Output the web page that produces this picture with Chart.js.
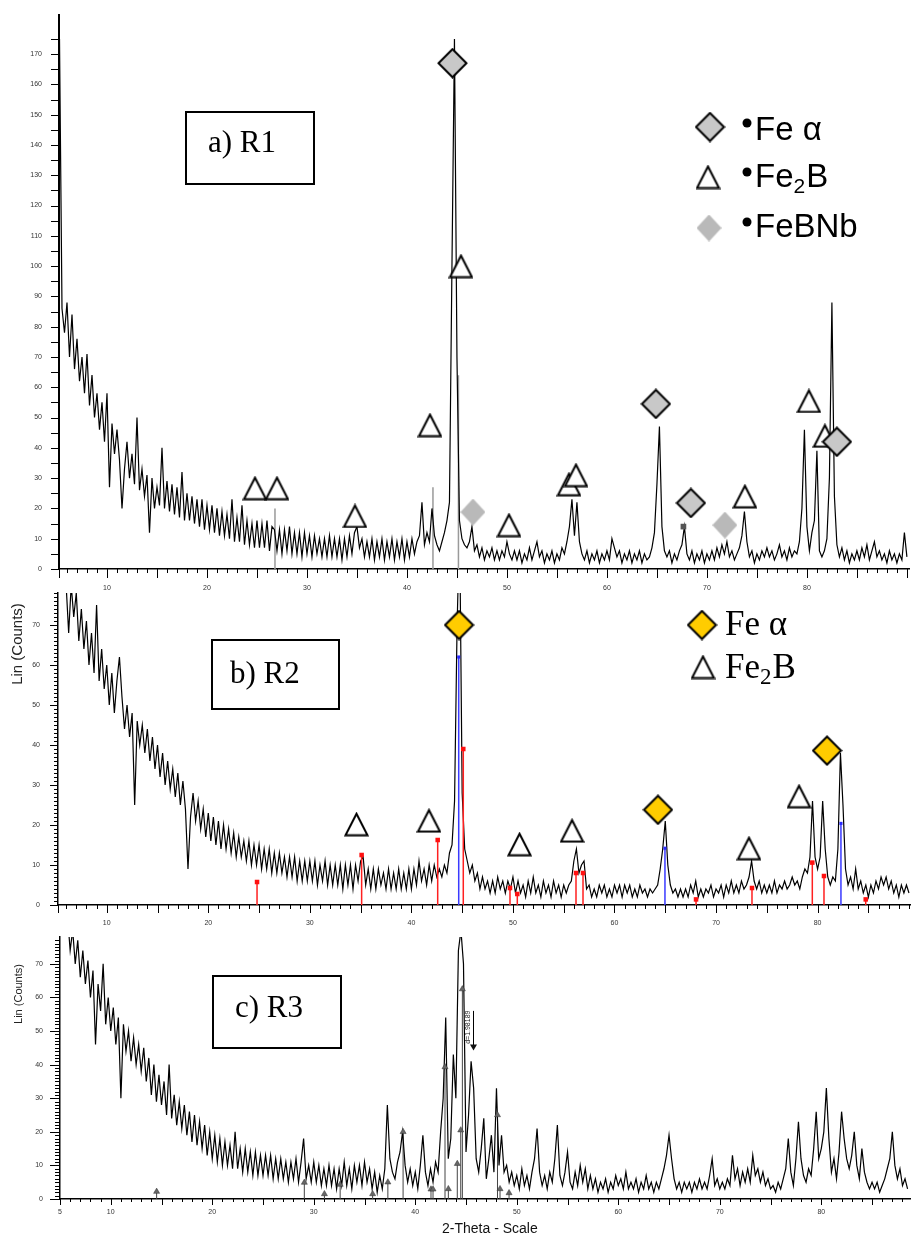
<!DOCTYPE html>
<html>
<head>
<meta charset="utf-8">
<title>XRD R1 R2 R3</title>
<script src="https://cdn.jsdelivr.net/npm/chart.js@4.4.0/dist/chart.umd.min.js"></script>
<style>
  html, body { margin: 0; padding: 0; background: #fff; }
  body { width: 911px; height: 1234px; position: relative; overflow: hidden; }
  canvas { position: absolute; left: 0; }
</style>
</head>
<body>
<canvas id="chartA" width="911" height="600" style="top:0px"></canvas>
<canvas id="chartB" width="911" height="346" style="top:584px"></canvas>
<canvas id="chartC" width="911" height="304" style="top:930px"></canvas>
<script>
'use strict'

// scan grid (2-theta, degrees)
const ANGLE_STEP = 0.25;
const r1Start = 5.25;
const r2Start = 5.25;
const r3Start = 5.25;

// a) R1 counts, one row = 5 degrees
const r1Counts = [
  175, 86, 78, 88, 70, 84, 66, 76, 62, 70, 58, 71, 54, 64, 50, 58, 46, 55, 42, 58,
  27, 48, 38, 46, 36, 20, 33, 42, 30, 38, 28, 50, 26, 33, 24, 31, 12, 30, 20, 27,
  21, 40, 20, 29, 19, 28, 18, 27, 17, 32, 16, 25, 16, 24, 15, 23, 14, 23, 13, 21,
  13, 21, 12, 20, 11, 19, 11, 18, 10, 23, 9, 17, 9, 21, 8, 16, 8, 15, 7, 16,
  7, 15, 7, 16, 6, 14, 13, 6, 13, 5, 13, 6, 14, 5, 12, 5, 12, 4, 12, 5,
  11, 4, 11, 5, 10, 4, 10, 4, 11, 4, 10, 4, 10, 3, 10, 4, 11, 5, 12, 14,
  7, 10, 4, 9, 4, 10, 3, 9, 4, 10, 3, 9, 4, 10, 3, 9, 4, 10, 3, 9,
  4, 10, 5, 9, 11, 22, 8, 12, 9, 20, 11, 8, 6, 9, 12, 16, 22, 100, 175, 70,
  16, 10, 8, 7, 9, 14, 6, 8, 4, 7, 3, 6, 4, 7, 3, 6, 3, 6, 4, 9,
  5, 3, 6, 3, 6, 2, 5, 3, 7, 3, 6, 9, 4, 6, 2, 5, 3, 6, 2, 5,
  3, 7, 5, 9, 14, 23, 11, 22, 9, 5, 3, 6, 2, 5, 3, 6, 2, 5, 3, 6,
  3, 10, 7, 4, 6, 2, 5, 3, 6, 2, 5, 3, 6, 2, 5, 3, 4, 7, 12, 28,
  47, 14, 6, 4, 6, 2, 5, 3, 6, 8, 14, 5, 3, 6, 2, 5, 3, 6, 2, 5,
  3, 6, 3, 7, 4, 8, 5, 9, 4, 6, 3, 5, 7, 11, 19, 9, 4, 6, 2, 5,
  3, 6, 4, 7, 4, 6, 3, 5, 8, 4, 6, 3, 7, 4, 6, 5, 9, 20, 46, 14,
  6, 12, 16, 39, 6, 4, 6, 10, 30, 88, 24, 8, 4, 7, 3, 6, 2, 5, 3, 6,
  3, 7, 4, 8, 3, 6, 9, 4, 6, 3, 5, 2, 6, 3, 5, 2, 5, 3, 12, 4
];

// b) R2 counts
const r2Counts = [
  95, 92, 86, 80, 68, 80, 72, 78, 66, 74, 64, 71, 60, 68, 58, 75, 56, 64, 54, 60,
  50, 58, 48, 56, 62, 52, 44, 50, 42, 48, 25, 46, 40, 45, 38, 44, 36, 42, 34, 40,
  32, 38, 30, 36, 29, 34, 27, 33, 25, 31, 24, 9, 22, 28, 21, 26, 19, 24, 17, 23,
  16, 22, 15, 21, 14, 20, 14, 19, 13, 18, 12, 17, 12, 16, 11, 16, 10, 15, 10, 15,
  9, 14, 9, 14, 8, 13, 8, 13, 8, 12, 7, 12, 7, 12, 6, 11, 6, 11, 6, 11,
  6, 11, 5, 10, 6, 11, 5, 10, 5, 10, 5, 10, 4, 10, 5, 10, 4, 10, 6, 11,
  12, 5, 9, 4, 9, 4, 9, 5, 8, 4, 9, 4, 8, 4, 9, 4, 8, 4, 9, 4,
  9, 5, 11, 6, 9, 5, 10, 6, 10, 7, 9, 7, 10, 8, 13, 15, 26, 70, 95, 28,
  14, 11, 8, 10, 6, 8, 4, 7, 4, 6, 3, 6, 3, 7, 4, 6, 3, 6, 4, 7,
  3, 6, 3, 5, 2, 6, 3, 7, 3, 5, 2, 6, 3, 5, 2, 6, 3, 5, 2, 5,
  3, 5, 6, 11, 14, 8, 10, 11, 4, 5, 2, 4, 2, 5, 3, 5, 2, 4, 2, 5,
  3, 5, 2, 5, 3, 5, 2, 4, 2, 5, 3, 4, 2, 4, 3, 4, 5, 9, 14, 21,
  10, 5, 3, 4, 2, 4, 2, 4, 2, 5, 3, 6, 2, 4, 2, 4, 3, 5, 2, 4,
  3, 5, 2, 5, 3, 6, 3, 5, 3, 6, 4, 5, 7, 11, 6, 4, 6, 3, 5, 3,
  5, 3, 6, 3, 5, 4, 6, 4, 5, 7, 5, 6, 4, 7, 9, 8, 12, 26, 12, 9,
  12, 26, 14, 7, 5, 7, 6, 14, 38, 25, 9, 5, 7, 4, 9, 4, 6, 3, 5, 2,
  5, 3, 6, 4, 7, 5, 7, 4, 6, 3, 5, 2, 5, 3, 5, 3
];

// c) R3 counts
const r3Counts = [
  88, 80, 84, 74, 80, 70, 77, 66, 74, 64, 71, 60, 68, 46, 64, 56, 70, 52, 60, 50,
  57, 46, 54, 30, 52, 44, 50, 41, 48, 40, 46, 38, 45, 35, 42, 31, 40, 29, 37, 28,
  35, 25, 40, 24, 31, 22, 29, 21, 28, 19, 26, 17, 25, 16, 23, 15, 22, 13, 20, 12,
  19, 11, 18, 10, 17, 10, 16, 9, 20, 9, 15, 8, 15, 8, 14, 7, 14, 7, 13, 7,
  13, 7, 13, 6, 12, 6, 12, 6, 11, 5, 11, 6, 12, 5, 11, 18, 6, 10, 5, 11,
  5, 10, 4, 9, 4, 10, 4, 9, 3, 9, 4, 11, 4, 9, 3, 10, 5, 10, 4, 11,
  5, 9, 3, 8, 2, 7, 3, 9, 28, 12, 8, 6, 11, 14, 20, 10, 5, 9, 4, 8,
  3, 10, 19, 8, 4, 9, 5, 11, 8, 20, 30, 54, 12, 18, 43, 30, 74, 80, 70, 14,
  25, 41, 33, 12, 8, 15, 24, 6, 12, 19, 8, 33, 10, 19, 8, 10, 5, 8, 4, 7,
  3, 9, 4, 7, 3, 8, 12, 21, 8, 4, 7, 3, 8, 5, 12, 22, 7, 4, 8, 14,
  5, 3, 8, 4, 10, 5, 9, 3, 7, 3, 6, 2, 5, 3, 6, 2, 5, 3, 7, 4,
  6, 3, 8, 3, 5, 3, 6, 2, 5, 3, 7, 3, 5, 2, 5, 3, 6, 9, 13, 19,
  12, 6, 3, 5, 2, 5, 3, 5, 2, 5, 3, 6, 3, 5, 3, 7, 12, 4, 6, 3,
  5, 3, 6, 4, 13, 6, 9, 4, 8, 5, 9, 5, 13, 7, 9, 5, 8, 4, 6, 3,
  4, 2, 5, 3, 6, 9, 18, 8, 4, 12, 23, 12, 7, 5, 9, 7, 15, 26, 12, 15,
  20, 33, 18, 8, 12, 6, 14, 26, 18, 12, 9, 13, 20, 10, 6, 15, 8, 5, 3, 5,
  3, 5, 2, 4, 6, 9, 12, 20, 10, 6, 9, 4, 6, 3
];

// phase markers (angle, counts at marker centre)
const r1FeAlphaAngles = [44.55, 64.9, 68.4, 83.0];
const r1FeAlphaCounts = [167, 54.5, 21.8, 42];
const r1Fe2BAngles = [45.4, 42.3, 24.8, 27.0, 34.8, 50.2, 56.2, 56.9, 73.8, 80.2, 81.8];
const r1Fe2BCounts = [100, 47.5, 26.7, 26.7, 17.5, 14.5, 28, 31, 24, 55.5, 44];
const r1FeBNbAngles = [46.6, 71.8];
const r1FeBNbCounts = [18.8, 14.5];
const r1RefAngles = [26.8, 42.6, 45.15];
const r1RefCounts = [20, 27, 64];
const r1DotAngles = [67.65];
const r1DotCounts = [14];

const r2FeAlphaAngles = [44.69, 64.28, 80.93];
const r2FeAlphaCounts = [70, 23.8, 38.6];
const r2Fe2BAngles = [34.59, 41.73, 50.65, 55.82, 73.24, 78.17];
const r2Fe2BCounts = [20.2, 21.1, 15.2, 18.6, 14.2, 27.2];
const r2RedAngles = [24.8, 35.1, 42.59, 45.11, 49.71, 50.43, 56.21, 56.9, 68.03, 73.54, 79.48, 80.63, 84.74];
const r2RedCounts = [5.75, 12.5, 16.25, 39, 4.25, 2.75, 8, 8, 1.4, 4.25, 10.6, 7.25, 1.4];
const r2BlueAngles = [44.66, 64.97, 82.3];
const r2BlueCounts = [62, 14.2, 20.4];

const r3MarkAngles = [14.52, 29.07, 31.05, 32.6, 35.8, 37.3, 38.8, 41.55, 41.75, 42.93, 43.26, 44.14, 44.48, 44.64, 48.1, 48.35, 49.24];
const r3MarkCounts = [2.2, 4.9, 1.5, 4.3, 1.5, 5, 20, 2.9, 2.9, 39.3, 3, 10.5, 20.5, 62.5, 25, 3, 1.8];
const r3PeakAngle = 45.69;
const r3PeakArrow = [56, 44.5];
const r3PeakText = 'd=1.98189';

// tick labels
const r1XLabels = [10, 20, 30, 40, 50, 60, 70, 80, 90];
const r2XLabels = [6, 10, 20, 30, 40, 50, 60, 70, 80];
const r3XLabels = [5, 10, 20, 30, 40, 50, 60, 70, 80];
const r1YLabels = [0, 10, 20, 30, 40, 50, 60, 70, 80, 90, 100, 110, 120, 130, 140, 150, 160, 170];
const r2YLabels = [0, 10, 20, 30, 40, 50, 60, 70];
const r3YLabels = [0, 10, 20, 30, 40, 50, 60, 70];

const SANS = '"Liberation Sans", Arial, sans-serif';
const SERIF = '"Liberation Serif", "Times New Roman", serif';

function trace(start, counts) {
  return counts.map((c, i) => ({x: start + i * ANGLE_STEP, y: c}));
}
function pairs(angles, counts) {
  return angles.map((a, i) => ({x: a, y: counts[i]}));
}
function sticks(angles, counts) {
  const pts = [];
  angles.forEach((a, i) => { pts.push({x: a, y: 0}, {x: a, y: counts[i]}, {x: a, y: null}); });
  return pts;
}

function makeTriangle(w, h) {
  const c = document.createElement('canvas');
  c.width = w; c.height = h;
  const g = c.getContext('2d');
  g.beginPath();
  g.moveTo(w / 2, 2);
  g.lineTo(w - 1.5, h - 1.5);
  g.lineTo(1.5, h - 1.5);
  g.closePath();
  g.fillStyle = '#fff';
  g.fill();
  g.lineWidth = 2;
  g.strokeStyle = '#000';
  g.stroke();
  return c;
}
function makeDiamond(w, h, fill, stroke) {
  const c = document.createElement('canvas');
  c.width = w; c.height = h;
  const g = c.getContext('2d');
  const m = stroke ? 1.5 : 0;
  g.beginPath();
  g.moveTo(w / 2, m);
  g.lineTo(w - m, h / 2);
  g.lineTo(w / 2, h - m);
  g.lineTo(m, h / 2);
  g.closePath();
  g.fillStyle = fill;
  g.fill();
  if (stroke) {
    g.lineWidth = 2;
    g.strokeStyle = stroke;
    g.stroke();
  }
  return c;
}

const triImg = makeTriangle(25, 25);
const grayDiamond = makeDiamond(31, 31, '#c8c8c8', '#000');
const lightDiamond = makeDiamond(25, 27, '#b9b9b9', null);
const yellowDiamond = makeDiamond(31, 31, '#ffcc00', '#000');

function drawTickMarks(chart, t) {
  const {ctx, chartArea: a} = chart;
  const xs = chart.scales.x, ys = chart.scales.y;
  ctx.save();
  ctx.strokeStyle = '#000';
  ctx.lineWidth = 1;
  ctx.beginPath();
  for (let v = Math.ceil(xs.min); v <= xs.max; v++) {
    const px = Math.round(xs.getPixelForValue(v)) + 0.5;
    const len = v % 5 === 0 ? t.xMajor : t.xMinor;
    ctx.moveTo(px, a.bottom);
    ctx.lineTo(px, a.bottom + len);
  }
  ctx.moveTo(a.left + 0.5, a.bottom);
  ctx.lineTo(a.left + 0.5, a.bottom + t.xMajor);
  for (let v = 0; v <= t.yTop; v += t.yStep) {
    const py = Math.round(ys.getPixelForValue(v)) + 0.5;
    const len = v % 10 === 0 ? t.yMajor : t.yMinor;
    ctx.moveTo(a.left, py);
    ctx.lineTo(a.left - len, py);
  }
  ctx.stroke();
  ctx.restore();
}

function textBox(ctx, label, box, tx, ty) {
  ctx.save();
  ctx.lineWidth = 2;
  ctx.strokeStyle = '#000';
  ctx.strokeRect(box[0], box[1], box[2] - box[0], box[3] - box[1]);
  ctx.fillStyle = '#000';
  ctx.font = '31px ' + SERIF;
  ctx.textBaseline = 'alphabetic';
  ctx.fillText(label, tx, ty);
  ctx.restore();
}

function subscriptLabel(ctx, font, subFont, x, y, drop) {
  ctx.font = font;
  ctx.fillText('Fe', x, y);
  let w = ctx.measureText('Fe').width;
  ctx.font = subFont;
  ctx.fillText('2', x + w, y + drop);
  w += ctx.measureText('2').width;
  ctx.font = font;
  ctx.fillText('B', x + w + 1, y);
}

function verticalTitle(ctx, text, font, cx, cy) {
  ctx.save();
  ctx.translate(cx, cy);
  ctx.rotate(-Math.PI / 2);
  ctx.font = font;
  ctx.fillStyle = '#222';
  ctx.textAlign = 'center';
  ctx.textBaseline = 'middle';
  ctx.fillText(text, 0, 0);
  ctx.restore();
}

const decorA = {
  id: 'decorA',
  afterDraw(chart) {
    const ctx = chart.ctx;
    drawTickMarks(chart, {xMajor: 9, xMinor: 4, yStep: 5, yTop: 175, yMajor: 8, yMinor: 8});
    textBox(ctx, 'a) R1', [186, 112, 314, 184], 208, 152);
    ctx.save();
    ctx.drawImage(grayDiamond, 710 - 15.5, 127 - 15.5);
    ctx.drawImage(triImg, 708 - 12.5, 177 - 12.5);
    ctx.drawImage(lightDiamond, 709 - 12.5, 228 - 13.5);
    ctx.fillStyle = '#000';
    [123, 172, 222].forEach(cy => {
      ctx.beginPath();
      ctx.arc(747, cy, 4.5, 0, Math.PI * 2);
      ctx.fill();
    });
    ctx.font = '33px ' + SANS;
    ctx.fillText('Fe \u03B1', 755, 140);
    subscriptLabel(ctx, '33px ' + SANS, '21px ' + SANS, 755, 187, 6);
    ctx.font = '33px ' + SANS;
    ctx.fillText('FeBNb', 755, 237);
    ctx.restore();
  }
};

const decorB = {
  id: 'decorB',
  afterDraw(chart) {
    const ctx = chart.ctx;
    const top = 584;
    drawTickMarks(chart, {xMajor: 8, xMinor: 4, yStep: 1, yTop: 78, yMajor: 8, yMinor: 4});
    textBox(ctx, 'b) R2', [212, 640 - top, 339, 709 - top], 230, 683 - top);
    ctx.save();
    ctx.drawImage(yellowDiamond, 702 - 15.5, 625 - top - 15.5);
    ctx.drawImage(triImg, 703 - 12.5, 667 - top - 12.5);
    ctx.fillStyle = '#000';
    ctx.font = '35px ' + SERIF;
    ctx.fillText('Fe \u03B1', 725, 635 - top);
    subscriptLabel(ctx, '35px ' + SERIF, '23px ' + SERIF, 725, 678 - top, 6);
    ctx.restore();
    verticalTitle(ctx, 'Lin (Counts)', '15px ' + SANS, 18, 644 - top);
  }
};

const decorC = {
  id: 'decorC',
  afterDraw(chart) {
    const ctx = chart.ctx;
    const top = 930;
    drawTickMarks(chart, {xMajor: 6, xMinor: 3, yStep: 1, yTop: 77, yMajor: 10, yMinor: 5});
    textBox(ctx, 'c) R3', [213, 976 - top, 341, 1048 - top], 235, 1017 - top);
    verticalTitle(ctx, 'Lin (Counts)', '11px ' + SANS, 19, 994 - top);
    ctx.save();
    ctx.fillStyle = '#111';
    ctx.font = '14px ' + SANS;
    ctx.fillText('2-Theta - Scale', 442, 1233 - top);
    // d-spacing label with arrow
    const xs = chart.scales.x, ys = chart.scales.y;
    const px = Math.round(xs.getPixelForValue(r3PeakAngle)) + 0.5;
    const y0 = ys.getPixelForValue(r3PeakArrow[0]);
    const y1 = ys.getPixelForValue(r3PeakArrow[1]);
    ctx.strokeStyle = '#000';
    ctx.lineWidth = 1;
    ctx.beginPath();
    ctx.moveTo(px, y0);
    ctx.lineTo(px, y1 - 4);
    ctx.stroke();
    ctx.beginPath();
    ctx.moveTo(px - 3.5, y1 - 5);
    ctx.lineTo(px + 3.5, y1 - 5);
    ctx.lineTo(px, y1 + 1);
    ctx.closePath();
    ctx.fill();
    ctx.restore();
    verticalTitle(ctx, r3PeakText, '7px ' + SANS, px - 5, (y0 + y1) / 2 - 3);
  }
};

function buildChart(id, o) {
  return new Chart(document.getElementById(id), {
    type: 'scatter',
    data: {datasets: o.datasets},
    options: {
      responsive: false,
      animation: false,
      events: [],
      layout: {padding: o.padding, autoPadding: false},
      plugins: {legend: {display: false}, tooltip: {enabled: false}},
      scales: {
        x: {
          type: 'linear',
          min: o.xMin,
          max: o.xMax,
          border: {display: true, color: '#000', width: 1.5},
          grid: {display: false, drawTicks: true, tickLength: o.xTick},
          ticks: {
            stepSize: 1, autoSkip: false, maxRotation: 0, minRotation: 0,
            padding: o.xPad, color: '#333', font: {family: SANS, size: 7},
            callback: v => o.xLabels.includes(v) ? String(v) : ''
          },
          afterFit: s => { s.height = o.xHeight; s.paddingLeft = 0; s.paddingRight = 0; }
        },
        y: {
          type: 'linear',
          min: 0,
          max: o.yMax,
          border: {display: true, color: '#000', width: o.yBorder},
          grid: {display: false, drawTicks: true, tickLength: o.yTick},
          ticks: {
            stepSize: 10, autoSkip: false,
            padding: o.yPad, color: '#333', font: {family: SANS, size: 7},
            callback: v => o.yLabels.includes(v) ? String(v) : ''
          },
          afterFit: s => { s.width = o.yWidth; s.paddingTop = 0; s.paddingBottom = 0; }
        }
      }
    },
    plugins: [o.plugin]
  });
}

const traceStyle = {showLine: true, borderColor: '#000', borderWidth: 1.2, pointRadius: 0, tension: 0};

buildChart('chartA', {
  padding: {top: 15, right: 2, bottom: 0, left: 0},
  xMin: 5.2, xMax: 90.21, xLabels: r1XLabels, xTick: 9, xPad: 6, xHeight: 31,
  yMax: 182.9, yLabels: r1YLabels, yTick: 8, yPad: 9, yWidth: 59, yBorder: 2,
  plugin: decorA,
  datasets: [
    {data: pairs(r1FeAlphaAngles, r1FeAlphaCounts), pointStyle: grayDiamond, pointRadius: 6, order: 0},
    {data: pairs(r1Fe2BAngles, r1Fe2BCounts), pointStyle: triImg, pointRadius: 6, order: 1},
    {data: pairs(r1FeBNbAngles, r1FeBNbCounts), pointStyle: lightDiamond, pointRadius: 6, order: 1},
    {data: pairs(r1DotAngles, r1DotCounts), pointStyle: 'rect', pointRadius: 4, backgroundColor: '#555', borderWidth: 0, order: 1},
    Object.assign({data: trace(r1Start, r1Counts), order: 3}, traceStyle),
    {data: sticks(r1RefAngles, r1RefCounts), showLine: true, spanGaps: false, borderColor: '#9a9a9a', borderWidth: 1.5, pointRadius: 0, order: 4}
  ]
});

buildChart('chartB', {
  padding: {top: 9, right: 1, bottom: 0, left: 0},
  xMin: 5.2, xMax: 89.1, xLabels: r2XLabels, xTick: 8, xPad: 6, xHeight: 25,
  yMax: 78, yLabels: r2YLabels, yTick: 8, yPad: 10, yWidth: 58, yBorder: 1.5,
  plugin: decorB,
  datasets: [
    {data: pairs(r2FeAlphaAngles, r2FeAlphaCounts), pointStyle: yellowDiamond, pointRadius: 6, order: 0},
    {data: pairs(r2Fe2BAngles, r2Fe2BCounts), pointStyle: triImg, pointRadius: 6, order: 1},
    {data: pairs(r2RedAngles, r2RedCounts), pointStyle: 'rect', pointRadius: 3.2, backgroundColor: '#ff1010', borderWidth: 0, order: 2},
    {data: pairs(r2BlueAngles, r2BlueCounts), pointStyle: 'rect', pointRadius: 2.2, backgroundColor: '#2a2aff', borderWidth: 0, order: 2},
    {data: sticks(r2RedAngles, r2RedCounts), showLine: true, spanGaps: false, borderColor: '#ff2020', borderWidth: 1.5, pointRadius: 0, order: 3},
    {data: sticks(r2BlueAngles, r2BlueCounts), showLine: true, spanGaps: false, borderColor: '#3a3aff', borderWidth: 1.5, pointRadius: 0, order: 3},
    Object.assign({data: trace(r2Start, r2Counts), order: 4}, traceStyle)
  ]
});

buildChart('chartC', {
  padding: {top: 7, right: 1, bottom: 0, left: 0},
  xMin: 5, xMax: 88.74, xLabels: r3XLabels, xTick: 6, xPad: 3, xHeight: 35,
  yMax: 78, yLabels: r3YLabels, yTick: 10, yPad: 7, yWidth: 60, yBorder: 1.5,
  plugin: decorC,
  datasets: [
    {data: pairs(r3MarkAngles, r3MarkCounts), pointStyle: 'triangle', pointRadius: 3.5, backgroundColor: '#666', borderColor: '#333', borderWidth: 0.5, order: 0},
    Object.assign({data: trace(r3Start, r3Counts), order: 1}, traceStyle),
    {data: sticks(r3MarkAngles, r3MarkCounts), showLine: true, spanGaps: false, borderColor: '#444', borderWidth: 1, pointRadius: 0, order: 2}
  ]
});
</script>
</body>
</html>
